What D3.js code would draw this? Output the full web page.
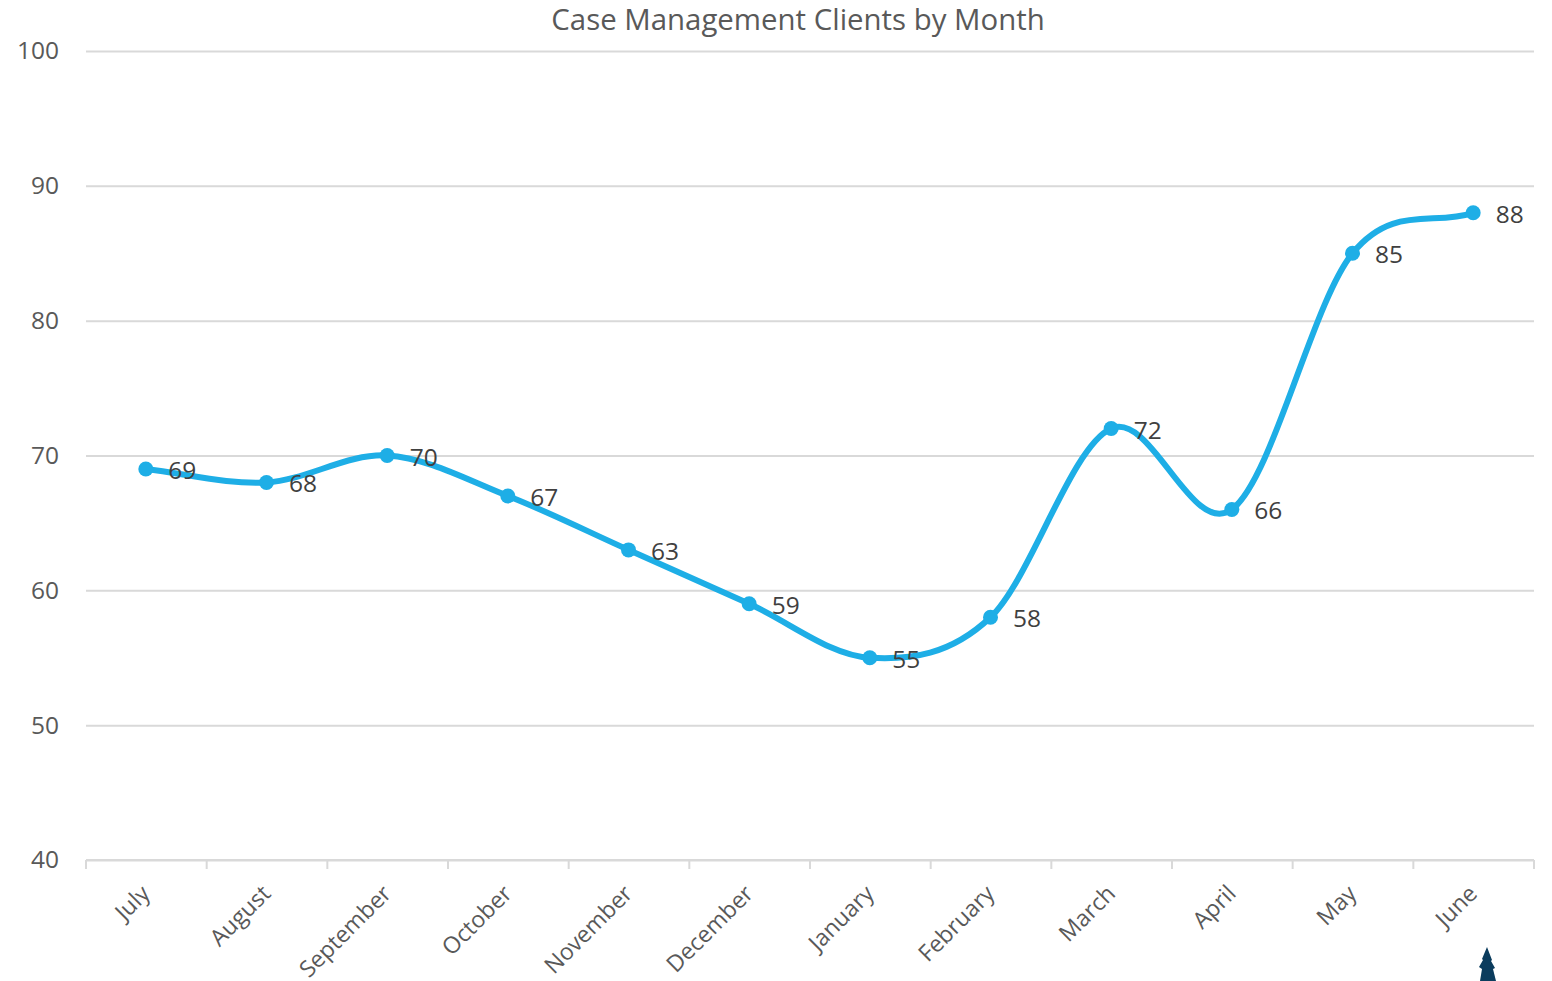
<!DOCTYPE html>
<html lang="en">
<head>
    <meta charset="UTF-8">
    <title>Case Management Clients by Month</title>
    <script src="https://d3js.org/d3.v7.min.js"></script>
    <style>
        html, body { margin: 0; padding: 0; background: #fff; overflow: hidden; }
        svg { display: block; }
        text { font-family: "Open Sans", sans-serif; }
    </style>
</head>
<body>
    <div id="chart"></div>
    <script>
        const months = ["July", "August", "September", "October", "November", "December",
                        "January", "February", "March", "April", "May", "June"];
        const clients = [69, 68, 70, 67, 63, 59, 55, 58, 72, 66, 85, 88];
        const yTicks = [40, 50, 60, 70, 80, 90, 100];

        const width = 1552, height = 981;
        const plotLeft = 86, plotRight = 1534, plotTop = 51, plotBottom = 860;

        // Spreadsheet-style smoothing: Catmull-Rom inside, a longer handle on the two end points
        function curveSheetSmooth(context) {
            let pts = [];
            return {
                lineStart() { pts = []; },
                point(px, py) { pts.push([px, py]); },
                lineEnd() {
                    const n = pts.length;
                    context.moveTo(pts[0][0], pts[0][1]);
                    for (let i = 0; i < n - 1; i++) {
                        const p0 = pts[i - 1], p1 = pts[i], p2 = pts[i + 1], p3 = pts[i + 2];
                        const c1 = p0
                            ? [p1[0] + (p2[0] - p0[0]) / 6, p1[1] + (p2[1] - p0[1]) / 6]
                            : [p1[0] + (p2[0] - p1[0]) / 3, p1[1] + (p2[1] - p1[1]) / 3];
                        const c2 = p3
                            ? [p2[0] - (p3[0] - p1[0]) / 6, p2[1] - (p3[1] - p1[1]) / 6]
                            : [p2[0] - (p2[0] - p1[0]) / 3, p2[1] - (p2[1] - p1[1]) / 3];
                        context.bezierCurveTo(c1[0], c1[1], c2[0], c2[1], p2[0], p2[1]);
                    }
                },
                areaStart() {},
                areaEnd() {}
            };
        }

        const svg = d3.select("#chart").append("svg")
            .attr("width", width)
            .attr("height", height);

        const x = d3.scaleBand().domain(months).range([plotLeft, plotRight]);
        const y = d3.scaleLinear().domain([40, 100]).range([plotBottom, plotTop]);

        // Title
        svg.append("text")
            .attr("x", 798)
            .attr("y", 30)
            .attr("text-anchor", "middle")
            .attr("font-size", 29.4)
            .attr("fill", "#595959")
            .text("Case Management Clients by Month");

        // Y axis: gridlines and labels
        const yAxis = svg.append("g")
            .attr("transform", `translate(${plotLeft},0)`)
            .call(d3.axisLeft(y).tickValues(yTicks).tickSize(-(plotRight - plotLeft)).tickPadding(27));
        yAxis.select(".domain").remove();
        yAxis.selectAll("line").attr("stroke", "#d9d9d9").attr("stroke-width", 2);
        yAxis.selectAll("text").attr("font-size", 24.5).attr("fill", "#595959")
            .style("font-family", '"Open Sans", sans-serif');

        // X axis: ticks sit on the band edges, labels are rotated
        const xAxis = svg.append("g")
            .attr("transform", `translate(0,${plotBottom})`)
            .call(d3.axisBottom(x).tickSize(0).tickPadding(0));
        xAxis.select(".domain").remove();
        xAxis.selectAll("text")
            .attr("font-size", 23)
            .attr("fill", "#595959")
            .style("font-family", '"Open Sans", sans-serif')
            .attr("text-anchor", "end")
            .attr("dy", 0)
            .attr("transform", "translate(5,35) rotate(-45)");

        svg.append("line")
            .attr("x1", plotLeft).attr("x2", plotRight)
            .attr("y1", plotBottom).attr("y2", plotBottom)
            .attr("stroke", "#d9d9d9").attr("stroke-width", 2);
        svg.append("g").selectAll("line")
            .data(months.map(m => x(m)).concat([plotRight]))
            .enter()
            .append("line")
            .attr("x1", d => d).attr("x2", d => d)
            .attr("y1", plotBottom).attr("y2", plotBottom + 9)
            .attr("stroke", "#d9d9d9").attr("stroke-width", 2);

        // Smoothed line
        const line = d3.line()
            .x((d, i) => x(months[i]) + x.bandwidth() / 2 - 0.5)
            .y(d => y(d))
            .curve(curveSheetSmooth);

        svg.append("path")
            .datum(clients)
            .attr("d", line)
            .attr("fill", "none")
            .attr("stroke", "#1eaee6")
            .attr("stroke-width", 6)
            .attr("stroke-linecap", "round");

        // Markers
        svg.append("g").selectAll("circle")
            .data(clients)
            .enter()
            .append("circle")
            .attr("cx", (d, i) => x(months[i]) + x.bandwidth() / 2 - 0.5)
            .attr("cy", d => y(d))
            .attr("r", 7.5)
            .attr("fill", "#1eaee6");

        // Value labels
        svg.append("g").selectAll("text")
            .data(clients)
            .enter()
            .append("text")
            .attr("x", (d, i) => x(months[i]) + x.bandwidth() / 2 + 22)
            .attr("y", d => y(d) + 10)
            .attr("font-size", 24.5)
            .attr("fill", "#404040")
            .text(d => d);

        // Small dark glyph cut off by the bottom edge
        svg.append("path")
            .attr("d", "M1487 947 L1492 960 L1491 961 L1495 968 L1493 969 L1496 981 L1480 981 L1482 969 L1479 967 L1483 960 L1482 959 Z")
            .attr("fill", "#0b3c5d");
    </script>
</body>
</html>
